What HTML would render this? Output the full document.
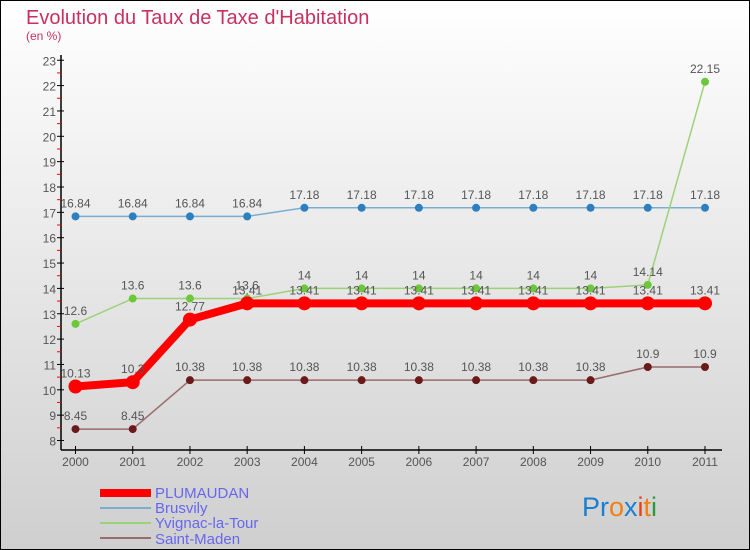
<!DOCTYPE html>
<html><head><meta charset="utf-8"><style>
body{margin:0;width:750px;height:550px;overflow:hidden}
svg{display:block;font-family:"Liberation Sans",sans-serif}
</style></head><body>
<svg id="c" width="750" height="550">
<defs><linearGradient id="bg" x1="0" y1="0" x2="0" y2="1"><stop offset="0" stop-color="#ffffff"/><stop offset="1" stop-color="#cfcfcf"/></linearGradient></defs>
<rect x="0.5" y="0.5" width="749" height="549" fill="url(#bg)" stroke="#000"/>
<text x="26" y="24" font-size="20" fill="#c8305f">Evolution du Taux de Taxe d'Habitation</text>
<text x="26" y="40" font-size="12" fill="#c8305f">(en %)</text>
<g id="axes"></g><g id="series"></g>
<g>
<rect x="100" y="489" width="51" height="8" fill="#f00"/>
<text x="155" y="498" font-size="15" fill="#6666ee">PLUMAUDAN</text>
<rect x="100" y="507" width="51" height="2" fill="#7aaed0"/>
<text x="155" y="513" font-size="15" fill="#6666ee">Brusvily</text>
<rect x="100" y="522" width="51" height="2" fill="#9cd27a"/>
<text x="155" y="528" font-size="15" fill="#6666ee">Yvignac-la-Tour</text>
<rect x="100" y="537" width="51" height="2" fill="#9a6b6b"/>
<text x="155" y="544" font-size="15" fill="#6666ee">Saint-Maden</text>
</g>
<g font-size="27" font-family="'Liberation Sans',sans-serif">
<text x="582" y="516"><tspan fill="#1a7fd0">Pr</tspan><tspan fill="#f08010">o</tspan><tspan fill="#1a7fd0">x</tspan><tspan fill="#e84010">i</tspan><tspan fill="#f08010">t</tspan><tspan fill="#2a9a40">i</tspan></text>
</g>
</svg>
<script>
const years=["2000","2001","2002","2003","2004","2005","2006","2007","2008","2009","2010","2011"];
const yTicks=[8,9,10,11,12,13,14,15,16,17,18,19,20,21,22,23];
const plumaudan=[10.13,10.3,12.77,13.41,13.41,13.41,13.41,13.41,13.41,13.41,13.41,13.41];
const brusvily=[16.84,16.84,16.84,16.84,17.18,17.18,17.18,17.18,17.18,17.18,17.18,17.18];
const yvignac=[12.6,13.6,13.6,13.6,14,14,14,14,14,14,14.14,22.15];
const saintMaden=[8.45,8.45,10.38,10.38,10.38,10.38,10.38,10.38,10.38,10.38,10.9,10.9];
const NS="http://www.w3.org/2000/svg";
const X=i=>75.5+i*(705-75.5)/11;
const Y=v=>440.5-(v-8)*25.35;
function mk(p,t,a){const e=document.createElementNS(NS,t);for(const k in a)e.setAttribute(k,a[k]);p.appendChild(e);return e;}
const ax=document.getElementById('axes');
let l=mk(ax,'line',{x1:61,y1:55,x2:61,y2:450,stroke:'#000','stroke-width':1.5});


l=mk(ax,'line',{x1:61,y1:450,x2:722,y2:450,stroke:'#000','stroke-width':1.5});


yTicks.forEach(v=>{
 mk(ax,'line',{x1:57,y1:Y(v),x2:64,y2:Y(v),stroke:'#000'});
 if(v<23)mk(ax,'line',{x1:57,y1:Y(v+0.5),x2:61,y2:Y(v+0.5),stroke:'#f00'});
 const t=mk(ax,'text',{x:56,y:Y(v)+5,'text-anchor':'end','font-size':12,fill:'#555'});t.textContent=v;
 
 
});
years.forEach((y,i)=>{
 mk(ax,'line',{x1:X(i),y1:446,x2:X(i),y2:454,stroke:'#000'});
 const t=mk(ax,'text',{x:X(i),y:466,'text-anchor':'middle','font-size':12,fill:'#555'});t.textContent=y;
 
 
});
const sg=document.getElementById('series');
function series(data,name,line,w,dot,r){
 const g=mk(sg,'g',{});
 
 
 mk(g,'polyline',{points:data.map((v,i)=>X(i)+','+Y(v)).join(' '),fill:'none',stroke:line,'stroke-width':w,'stroke-linejoin':'round'});
 data.forEach((v,i)=>{
  const c=mk(g,'circle',{cx:X(i),cy:Y(v),r:r,fill:dot});
  
  
  const t=mk(g,'text',{x:X(i),y:Y(v)-9,'text-anchor':'middle','font-size':12,fill:'#555'});t.textContent=v;
  
  
 });
}
series(saintMaden,'saint-maden-series','#9a6b6b',1.5,'#6a1a1a',4);
series(brusvily,'brusvily-series','#7aaed0',1.5,'#2e7fbf',4);
series(yvignac,'yvignac-series','#9cd27a',1.5,'#6cc83a',4);
series(plumaudan,'plumaudan-series','#f00',8,'#f00',7);
</script>
</body></html>
